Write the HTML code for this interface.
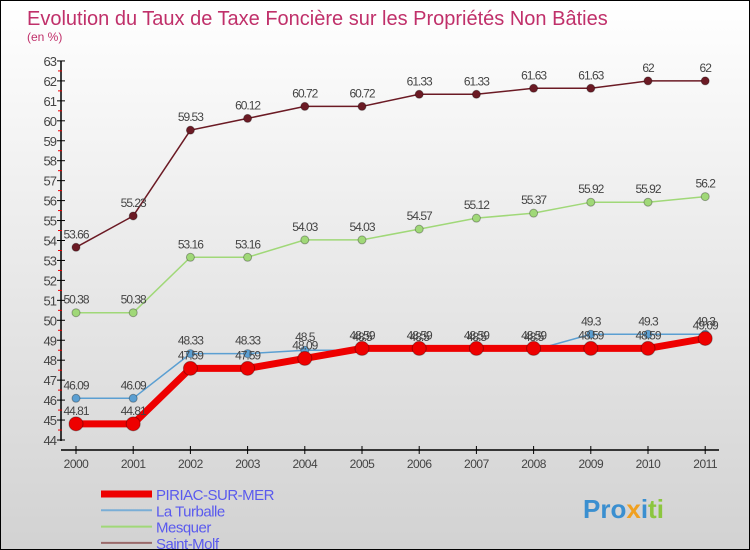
<!DOCTYPE html>
<html><head><meta charset="utf-8"><style>
body{margin:0}
#c{width:748px;height:548px;border:1px solid #000;background:linear-gradient(#fff,#d2d2d2);position:relative;font-family:"Liberation Sans",sans-serif;overflow:hidden}
</style></head><body>
<div id="c">
<svg id="s" width="748" height="548"></svg>
</div>
<script>
const years=["2000","2001","2002","2003","2004","2005","2006","2007","2008","2009","2010","2011"];
const piriac=[44.81,44.81,47.59,47.59,48.09,48.59,48.59,48.59,48.59,48.59,48.59,49.09];
const turballe=[46.09,46.09,48.33,48.33,48.5,48.5,48.5,48.5,48.5,49.3,49.3,49.3];
const mesquer=[50.38,50.38,53.16,53.16,54.03,54.03,54.57,55.12,55.37,55.92,55.92,56.2];
const molf=[53.66,55.23,59.53,60.12,60.72,60.72,61.33,61.33,61.63,61.63,62,62];
const yTicks=[44,45,46,47,48,49,50,51,52,53,54,55,56,57,58,59,60,61,62,63];
const NS="http://www.w3.org/2000/svg";
const s=document.getElementById('s');
const X=i=>75+i*57.2;
const Y=v=>439-(v-44)*19.95;
function mk(t,a,p){const e=document.createElementNS(NS,t);for(const k in a)e.setAttribute(k,a[k]);(p||s).appendChild(e);return e;}
let t=mk('text',{x:26,y:24,'font-size':20,fill:'#c0306a'});t.textContent='Evolution du Taux de Taxe Foncière sur les Propriétés Non Bâties';


t=mk('text',{x:26,y:40,'font-size':12,fill:'#c0306a'});t.textContent='(en %)';


let ax=mk('line',{x1:60,y1:Y(63),x2:60,y2:Y(44)+1,stroke:'#000','stroke-width':1.5});


yTicks.forEach(v=>{
 mk('line',{x1:56,x2:64,y1:Y(v),y2:Y(v),stroke:'#000'});
 if(v<63)mk('line',{x1:57,x2:61,y1:Y(v+0.5),y2:Y(v+0.5),stroke:'#e00'});
 const l=mk('text',{x:55,y:Y(v)+5,'font-size':13,fill:'#444','text-anchor':'end','letter-spacing':-1});l.textContent=v;
 
 
});
ax=mk('line',{x1:60,y1:449,x2:718,y2:449,stroke:'#000','stroke-width':1.5});


years.forEach((y,i)=>{
 mk('line',{x1:X(i),x2:X(i),y1:445,y2:453,stroke:'#000'});
 const l=mk('text',{x:X(i),y:467,'font-size':12,fill:'#444','text-anchor':'middle','letter-spacing':-0.5});l.textContent=y;
 
 
});
function series(d,col,w,r,name){
 const g=mk('g',{});
 
 
 mk('polyline',{points:d.map((v,i)=>X(i)+','+Y(v)).join(' '),fill:'none',stroke:col,'stroke-width':w},g);
 d.forEach((v,i)=>{
  const c=mk('circle',{cx:X(i),cy:Y(v),r:r,fill:col,stroke:'rgba(0,0,0,0.3)'},g);
  
  
  const l=mk('text',{x:X(i),y:Y(v)-9,'font-size':12,fill:'#444','text-anchor':'middle','letter-spacing':-1},g);l.textContent=v;
  
  
 });
}
series(molf,'#6b1a24',1.5,4,'saint-molf');
series(mesquer,'#a0d878',1.5,4,'mesquer');
series(turballe,'#5b9fd2',1.5,4,'la-turballe');
series(piriac,'#ee0000',7,7,'piriac-sur-mer');
const leg=[['PIRIAC-SUR-MER','#ee0000',7],['La Turballe','#7aaed6',2],['Mesquer','#a0d878',2],['Saint-Molf','#9a6a6a',2]];
leg.forEach((l,i)=>{
 const y=493+i*16.3;
 const g=mk('g',{});
 
 
 mk('line',{x1:100,x2:151,y1:y,y2:y,stroke:l[1],'stroke-width':l[2]},g);
 const tx=mk('text',{x:155,y:y+6,'font-size':15,fill:'#5a5aee','letter-spacing':-0.5},g);tx.textContent=l[0];
});
const lg=mk('text',{x:582,y:517,'font-size':26,'font-weight':'bold',fill:'#3a8fd0'});
lg.innerHTML='Pro<tspan fill="#f0a020">x</tspan>i<tspan fill="#8cc63f">ti</tspan>';


</script>
</body></html>
